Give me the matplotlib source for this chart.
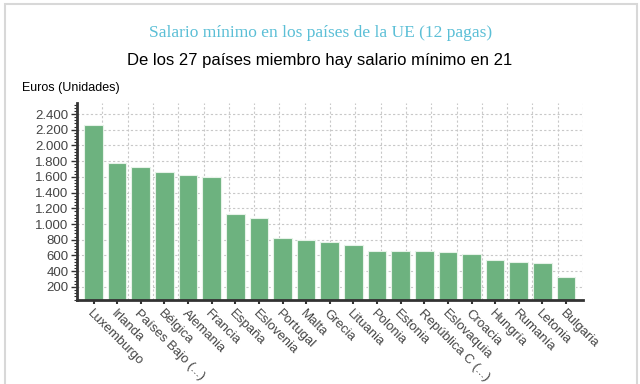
import matplotlib
matplotlib.use('Agg')
import matplotlib.pyplot as plt
from matplotlib.patches import Rectangle
from matplotlib.ticker import FuncFormatter, MultipleLocator
import numpy as np

# salario minimo mensual (12 pagas), euros
paises = ['Luxemburgo', 'Irlanda', 'Países Bajo (...)', 'Bélgica', 'Alemania', 'Francia',
          'España', 'Eslovenia', 'Portugal', 'Malta', 'Grecia', 'Lituania', 'Polonia',
          'Estonia', 'República C (...)', 'Eslovaquia', 'Croacia', 'Hungría', 'Rumanía',
          'Letonia', 'Bulgaria']
salario = [2257, 1775, 1725, 1658, 1621, 1603, 1126, 1074, 823, 792, 774, 730, 654,
           654, 652, 646, 622, 542, 515, 500, 332]
y_ticks = list(range(200, 2401, 200))

bar_color = '#6db27f'
axis_color = '#333333'
grid_color = '#c8c8c8'
text_color = '#444444'

fig = plt.figure(figsize=(6.4, 3.84), dpi=100)
ax = fig.add_axes([77 / 640, 1 - 299.5 / 384, 506 / 640, 196.5 / 384])

x = np.arange(len(paises))
ax.bar(x, salario, width=0.79, color=bar_color, edgecolor='#e6f2e8', linewidth=0.8, zorder=2)

ax.set_xlim(-0.7, len(paises) - 0.28)
ax.set_ylim(40, 2540)

# rejilla horizontal en cada marca, vertical en 20 tramos iguales
for v in y_ticks:
    ax.axhline(v, color=grid_color, lw=0.8, ls=(0, (2, 2)), zorder=1)
x0, x1 = ax.get_xlim()
for k in range(1, 21):
    ax.axvline(x0 + k * (x1 - x0) / 20, color=grid_color, lw=0.8, ls=(0, (2, 2)), zorder=1)

ax.set_yticks(y_ticks)
ax.yaxis.set_minor_locator(MultipleLocator(40))
ax.yaxis.set_major_formatter(FuncFormatter(lambda v, p: f'{int(v):,}'.replace(',', '.')))
ax.tick_params(axis='y', which='major', length=4, width=1, color=axis_color,
               labelsize=9.5, labelcolor=text_color, pad=2)
ax.tick_params(axis='y', which='minor', length=2, width=0.8, color=axis_color)

ax.set_xticks(x)
ax.set_xticklabels(paises, rotation=-45, ha='left', va='top', rotation_mode='anchor',
                   fontsize=9.5, color=text_color)
ax.tick_params(axis='x', length=3, width=1.5, color=axis_color, pad=3)

for s in ['top', 'right']:
    ax.spines[s].set_visible(False)
for s in ['left', 'bottom']:
    ax.spines[s].set_color(axis_color)
    ax.spines[s].set_linewidth(2)

fig.text(321 / 640, 1 - 33 / 384, 'Salario mínimo en los países de la UE (12 pagas)',
         ha='center', va='center', fontsize=12.5, color='#5bbfd6', family='Liberation Serif')
fig.text(320 / 640, 1 - 60 / 384, 'De los 27 países miembro hay salario mínimo en 21',
         ha='center', va='center', fontsize=12, color='black', family='Liberation Sans')
fig.text(22 / 640, 1 - 88 / 384, 'Euros (Unidades)', ha='left', va='center',
         fontsize=9, color='black', family='Liberation Sans')

# marco gris claro
fig.patches.append(Rectangle((4.5 / 640, -0.1), 632.5 / 640, 1.1 - 4.5 / 384, fill=False,
                             ec='#d8d8d8', lw=1.5, transform=fig.transFigure))

plt.rcParams['font.family'] = 'Liberation Sans'
for lbl in ax.get_xticklabels() + ax.get_yticklabels():
    lbl.set_family('Liberation Sans')

fig.savefig('out.png', dpi=100)
